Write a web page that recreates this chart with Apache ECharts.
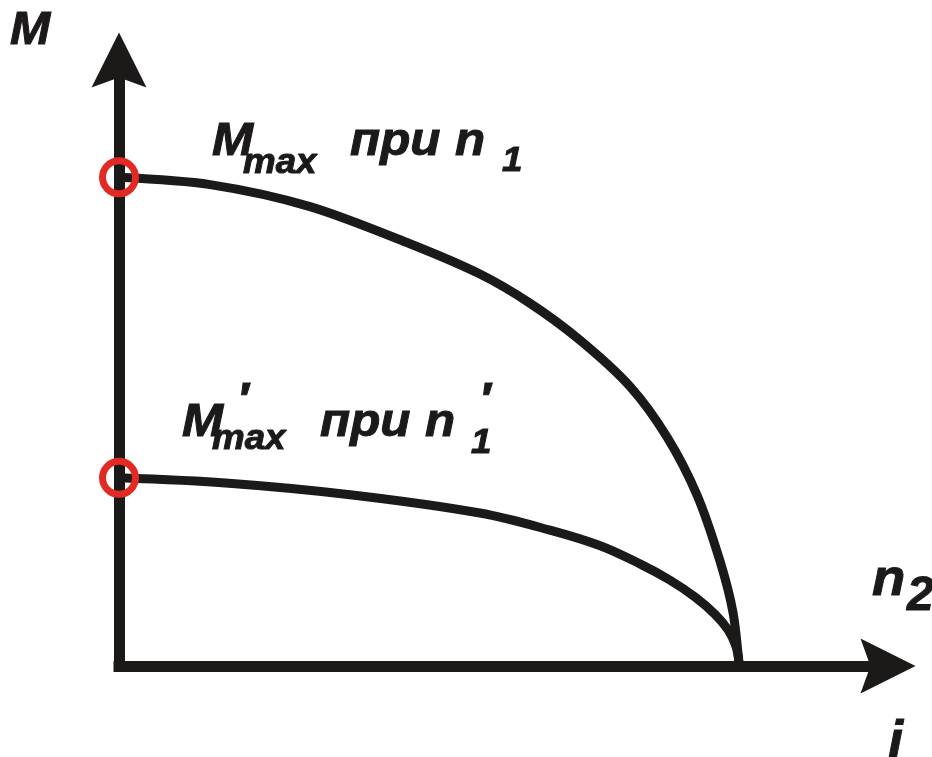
<!DOCTYPE html>
<html>
<head>
<meta charset="utf-8">
<title>M(i)</title>
<script src="https://cdn.jsdelivr.net/npm/echarts@6/dist/echarts.min.js"></script>
<style>
  html, body { margin: 0; padding: 0; background: #fff; }
  #chart { width: 932px; height: 757px; }
</style>
</head>
<body>
<div id="chart"></div>
<script>
// curve values (i along x, M along y; both axes 0..124)
const upperCurve = [
  [0, 100], [14.7, 98.5], [30.8, 94.0], [46.9, 86.4], [58.2, 80.2], [66.3, 74.2],
  [74.3, 66.7], [82.4, 57.2], [88.4, 46.8], [93.2, 35.0], [96.9, 21.5], [99.0, 11.0], [100, 0]
]
const lowerCurve = [
  [0, 38.5], [17.7, 37.4], [37.6, 35.0], [58.2, 31.3], [69.5, 27.8], [77.6, 24.6],
  [84.0, 20.9], [88.8, 17.6], [92.9, 14.1], [96.1, 10.6], [98.2, 7.4], [99.4, 4.3], [99.9, 1.6], [100, 0]
]
const startPoints = [[0, 100], [0, 38.5]]

const INK = '#1c1919'
const RED = '#e22a24'

function font(size) {
  return 'italic bold ' + size + 'px "Liberation Sans", Arial, sans-serif'
}

// text piece placed by its baseline, a bit wider and heavier than Liberation
function piece(str, x, baseline, size, sx) {
  return {
    type: 'text',
    x: x,
    y: baseline - 0.31 * size,
    scaleX: sx || 1.05,
    silent: true,
    style: {
      text: str, font: font(size), fill: INK,
      stroke: INK, lineWidth: 1,
      align: 'left', verticalAlign: 'middle'
    }
  }
}

const arrow = 'path://M50,0 L100,100 L50,82 L0,100 Z'

function axisStyle() {
  return {
    type: 'value',
    min: 0,
    max: 124,
    axisLine: {
      show: true,
      symbol: ['none', arrow],
      symbolSize: [55, 63],
      lineStyle: { color: INK, width: 11, cap: 'square' }
    },
    axisTick: { show: false },
    axisLabel: { show: false },
    splitLine: { show: false }
  }
}

const chart = echarts.init(document.getElementById('chart'))

chart.setOption({
  animation: false,
  backgroundColor: '#fff',
  grid: { left: 119, right: 44, top: 60, bottom: 91 },
  xAxis: axisStyle(),
  yAxis: axisStyle(),
  series: [
    {
      type: 'line',
      data: upperCurve,
      smooth: 0.3,
      showSymbol: false,
      lineStyle: { color: INK, width: 9 }
    },
    {
      type: 'line',
      data: lowerCurve,
      smooth: 0.35,
      showSymbol: false,
      lineStyle: { color: INK, width: 9 }
    },
    {
      type: 'scatter',
      data: startPoints,
      symbolSize: 33,
      z: 5,
      itemStyle: { color: 'rgba(0,0,0,0)', borderColor: RED, borderWidth: 7, opacity: 1 }
    }
  ],
  graphic: [
    // axis names
    piece('M', 10, 46, 46),
    piece('n', 872, 597, 52),
    piece('2', 907, 612, 48, 1),
    piece('i', 888, 760, 54, 1),
    // M_max при n_1
    piece('M', 212, 157, 47),
    piece('max', 243, 174, 35),
    piece('при', 350, 157, 47),
    piece('n', 455, 157, 47),
    piece('1', 502, 172, 35),
    // M'_max при n'_1
    piece('M', 182, 438, 47),
    piece('′', 237, 417, 46),
    piece('max', 212, 450, 35),
    piece('при', 320, 438, 47),
    piece('n', 425, 438, 47),
    piece('′', 479, 417, 46),
    piece('1', 471, 454, 35)
  ]
})
</script>
</body>
</html>
